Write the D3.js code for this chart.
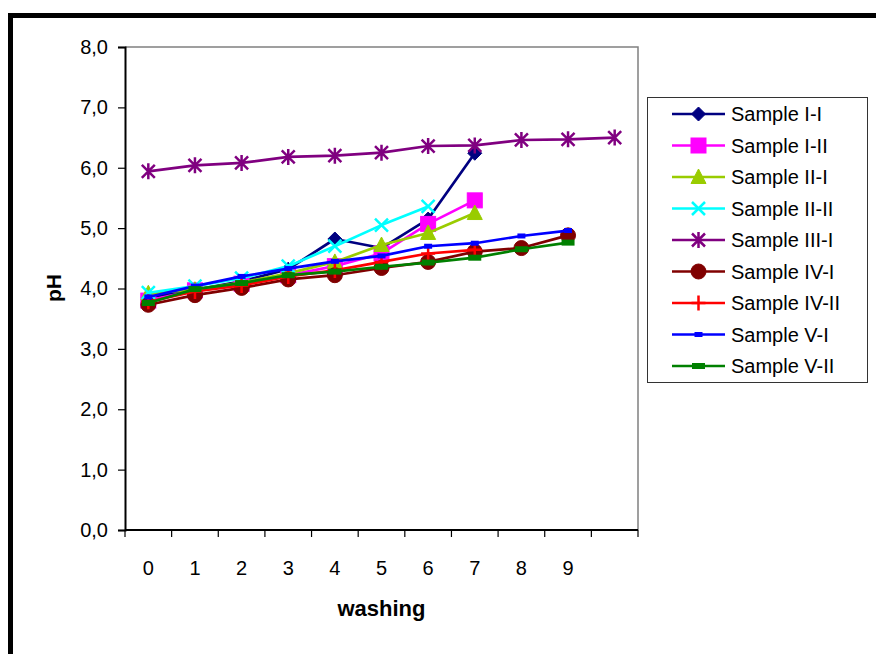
<!DOCTYPE html>
<html>
<head>
<meta charset="utf-8">
<script src="https://cdn.jsdelivr.net/npm/d3@7"></script>
<style>
  html, body { margin: 0; padding: 0; background: #fff; }
  svg { display: block; font-family: "Liberation Sans", Arial, sans-serif; }
</style>
</head>
<body>
<svg id="chart" width="876" height="654"></svg>
<script>
// ---- data ----
const categories = ["0", "1", "2", "3", "4", "5", "6", "7", "8", "9", ""];
const yTicks = [0, 1, 2, 3, 4, 5, 6, 7, 8];
const seriesNames = ["Sample I-I", "Sample I-II", "Sample II-I", "Sample II-II", "Sample III-I",
                     "Sample IV-I", "Sample IV-II", "Sample V-I", "Sample V-II"];
const sampleI_I   = [3.85, 3.98, 4.12, 4.32, 4.82, 4.67, 5.15, 6.24];
const sampleI_II  = [3.80, 3.97, 4.08, 4.22, 4.37, 4.58, 5.07, 5.46];
const sampleII_I  = [3.92, 3.98, 4.10, 4.25, 4.44, 4.72, 4.92, 5.25];
const sampleII_II = [3.93, 4.04, 4.17, 4.37, 4.70, 5.05, 5.36];
const sampleIII_I = [5.94, 6.04, 6.08, 6.18, 6.20, 6.25, 6.36, 6.37, 6.46, 6.47, 6.50];
const sampleIV_I  = [3.73, 3.89, 4.01, 4.15, 4.22, 4.34, 4.44, 4.61, 4.67, 4.88];
const sampleIV_II = [3.78, 3.95, 4.05, 4.20, 4.30, 4.44, 4.58, 4.64];
const sampleV_I   = [3.86, 4.04, 4.20, 4.33, 4.45, 4.54, 4.70, 4.75, 4.87, 4.96];
const sampleV_II  = [3.76, 3.99, 4.09, 4.22, 4.28, 4.36, 4.43, 4.51, 4.65, 4.76];
const seriesValues = [sampleI_I, sampleI_II, sampleII_I, sampleII_II, sampleIII_I,
                      sampleIV_I, sampleIV_II, sampleV_I, sampleV_II];
const seriesColors = ["#000080", "#FF00FF", "#99CC00", "#00FFFF", "#800080",
                      "#800000", "#FF0000", "#0000FF", "#008000"];
const seriesMarkers = ["diamond", "square", "triangle", "x", "asterisk",
                       "circle", "plus", "smallrect", "widerect"];

// ---- layout ----
const svg = d3.select("#chart");
const plot = { left: 125, right: 638, top: 47, bottom: 530 };

// outer frame (extends beyond the picture on right and bottom)
svg.append("rect").attr("x", 10.5).attr("y", 15.5).attr("width", 900).attr("height", 700)
  .attr("fill", "none").attr("stroke", "#000").attr("stroke-width", 5);

const x = d3.scaleBand().domain(categories).range([plot.left, plot.right]).padding(0);
const bw = x.bandwidth();
const cx = i => x(categories[i]) + bw / 2;
const y = d3.scaleLinear().domain([0, 8]).range([plot.bottom, plot.top]);

// plot border (top, right) in gray
svg.append("path")
  .attr("d", `M${plot.left},${plot.top}H${plot.right}V${plot.bottom}`)
  .attr("fill", "none").attr("stroke", "#808080").attr("stroke-width", 1.5);

// y axis
const yAxis = d3.axisLeft(y).tickValues(yTicks)
  .tickFormat(d => d.toFixed(1).replace(".", ","))
  .tickSize(7).tickPadding(10);
const gy = svg.append("g").attr("transform", `translate(${plot.left},0)`).call(yAxis);
gy.select(".domain").attr("stroke", "#000").attr("stroke-width", 2);
gy.selectAll(".tick line").attr("stroke", "#000").attr("stroke-width", 1.2);
gy.selectAll("text").attr("font-size", 20).attr("fill", "#000")
  .attr("font-family", "Liberation Sans, Arial, sans-serif");

// x axis: ticks at band boundaries, labels at centers
const gx = svg.append("g");
gx.append("line").attr("x1", plot.left).attr("x2", plot.right)
  .attr("y1", plot.bottom).attr("y2", plot.bottom)
  .attr("stroke", "#000").attr("stroke-width", 2);
const boundaries = categories.map(c => x(c)).concat([x(categories[categories.length - 1]) + bw]);
gx.selectAll("line.tk").data(boundaries).join("line").attr("class", "tk")
  .attr("x1", d => d).attr("x2", d => d)
  .attr("y1", plot.bottom).attr("y2", plot.bottom + 7)
  .attr("stroke", "#000").attr("stroke-width", 1.2);
gx.selectAll("text").data(categories).join("text")
  .attr("x", (d, i) => cx(i)).attr("y", plot.bottom + 45)
  .attr("text-anchor", "middle").attr("font-size", 20).attr("fill", "#000")
  .text(d => d);

// axis titles
svg.append("text").attr("x", (plot.left + plot.right) / 2).attr("y", 616)
  .attr("text-anchor", "middle").attr("font-size", 22).attr("font-weight", "bold")
  .text("washing");
svg.append("text").attr("transform", "translate(61,288) rotate(-90)")
  .attr("text-anchor", "middle").attr("font-size", 21).attr("font-weight", "bold")
  .text("pH");

// markers
function drawMarker(g, type, color) {
  switch (type) {
    case "diamond":
      g.append("path").attr("d", "M0,-7L7,0L0,7L-7,0Z").attr("fill", color).attr("stroke", color);
      break;
    case "square":
      g.append("rect").attr("x", -7.5).attr("y", -7.5).attr("width", 15).attr("height", 15)
        .attr("fill", color).attr("stroke", color);
      break;
    case "triangle":
      g.append("path").attr("d", "M0,-8L7.5,6.5L-7.5,6.5Z").attr("fill", color).attr("stroke", color);
      break;
    case "x":
      g.append("path").attr("d", "M-6.5,-6.5L6.5,6.5M-6.5,6.5L6.5,-6.5")
        .attr("stroke", color).attr("stroke-width", 2.5).attr("fill", "none");
      break;
    case "asterisk":
      g.append("path").attr("d", "M-6.5,-6.5L6.5,6.5M-6.5,6.5L6.5,-6.5M0,-8V8")
        .attr("stroke", color).attr("stroke-width", 2.5).attr("fill", "none");
      break;
    case "circle":
      g.append("circle").attr("r", 7.5).attr("fill", color).attr("stroke", color);
      break;
    case "plus":
      g.append("path").attr("d", "M-7,0H7M0,-7.5V7.5")
        .attr("stroke", color).attr("stroke-width", 2.5).attr("fill", "none");
      break;
    case "smallrect":
      g.append("rect").attr("x", -4).attr("y", -2.5).attr("width", 8).attr("height", 5).attr("fill", color);
      break;
    case "widerect":
      g.append("rect").attr("x", -6.5).attr("y", -3).attr("width", 13).attr("height", 6).attr("fill", color);
      break;
  }
}

// series
const line = d3.line().x((d, i) => cx(i)).y(d => y(d));
seriesValues.forEach((vals, s) => {
  const g = svg.append("g");
  g.append("path").datum(vals).attr("d", line)
    .attr("fill", "none").attr("stroke", seriesColors[s]).attr("stroke-width", 2.7)
    .attr("stroke-linejoin", "round");
  vals.forEach((v, i) => {
    const mg = g.append("g").attr("transform", `translate(${cx(i)},${y(v)})`);
    drawMarker(mg, seriesMarkers[s], seriesColors[s]);
  });
});

// legend
const lg = svg.append("g");
lg.append("rect").attr("x", 647.5).attr("y", 97.5).attr("width", 220).attr("height", 285)
  .attr("fill", "#fff").attr("stroke", "#333").attr("stroke-width", 1);
seriesNames.forEach((name, s) => {
  const yy = 114 + s * 31.5;
  lg.append("line").attr("x1", 672).attr("x2", 725).attr("y1", yy).attr("y2", yy)
    .attr("stroke", seriesColors[s]).attr("stroke-width", 2.7);
  const mg = lg.append("g").attr("transform", `translate(698.5,${yy})`);
  drawMarker(mg, seriesMarkers[s], seriesColors[s]);
  lg.append("text").attr("x", 731).attr("y", yy + 7).attr("font-size", 20).attr("fill", "#000")
    .text(name);
});
</script>
</body>
</html>
